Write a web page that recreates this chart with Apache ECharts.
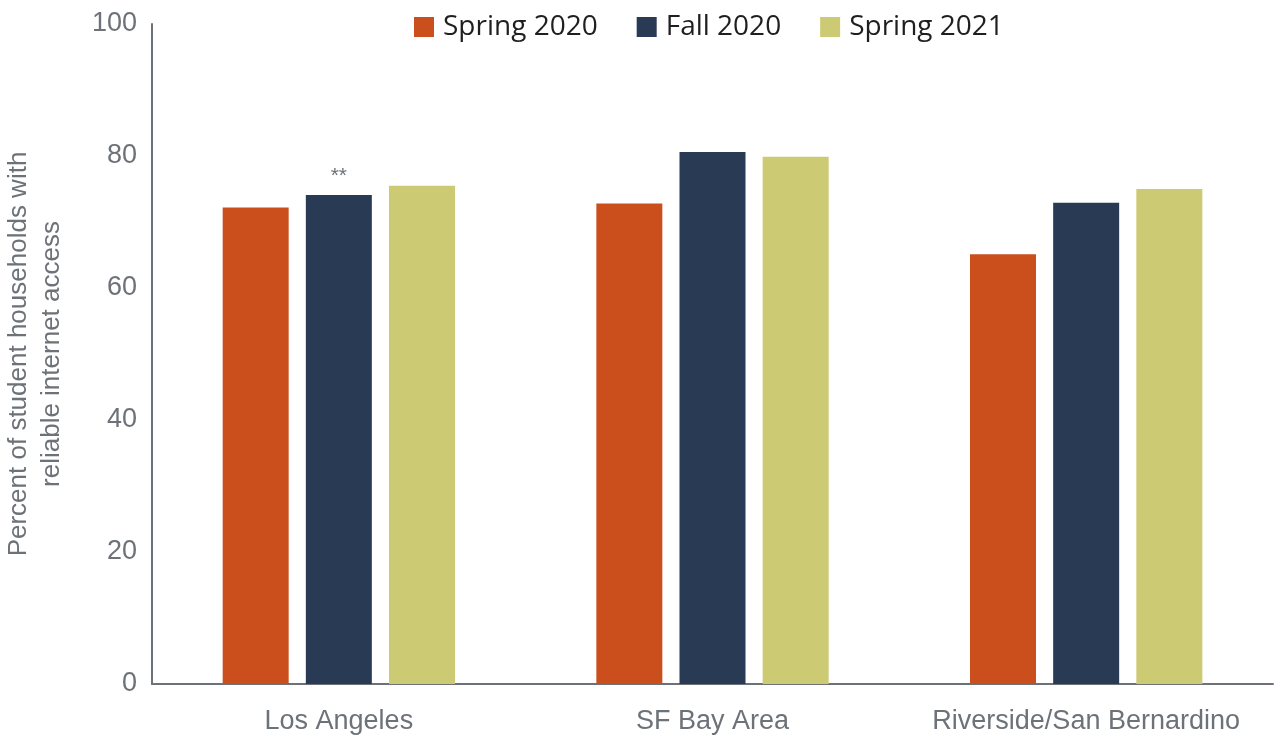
<!DOCTYPE html>
<html>
<head>
<meta charset="utf-8">
<script src="https://cdn.jsdelivr.net/npm/echarts@6/dist/echarts.min.js"></script>
<style>
  html, body { margin: 0; padding: 0; background: #fff; }
  #main { width: 1280px; height: 736px; }
</style>
</head>
<body>
<div id="main"></div>
<script>
  var regions = ['Los Angeles', 'SF Bay Area', 'Riverside/San Bernardino']
  var spring2020 = [72.2, 72.8, 65.1]
  var fall2020 = [74.1, 80.6, 72.9]
  var spring2021 = [75.5, 79.9, 75.0]
  var fallNotes = ['**', '', '']   // significance marks over the Fall 2020 bars
  var yTicks = [0, 20, 40, 60, 80, 100]

  var axisGray = '#6d7278'
  var font = '"Liberation Sans", Arial, sans-serif'

  var chart = echarts.init(document.getElementById('main'))
  var option = {
    backgroundColor: '#fff',
    color: ['#cb4f1c', '#283a54', '#cdca74'],
    textStyle: { fontFamily: font },
    legend: {
      top: 8,
      left: 409,
      itemWidth: 20,
      itemHeight: 20,
      itemGap: 39,
      icon: 'rect',
      textStyle: { fontSize: 28, color: '#1f1f1f', fontFamily: '"Open Sans", sans-serif', padding: [0, 0, 0, 4] },
      data: ['Spring 2020', 'Fall 2020', 'Spring 2021']
    },
    grid: { left: 152, right: 7, top: 24, bottom: 52, outerBoundsMode: 'none' },
    xAxis: {
      type: 'category',
      data: regions,
      axisLine: { lineStyle: { color: axisGray, width: 2 } },
      axisTick: { show: false },
      axisLabel: { fontSize: 27, color: axisGray, margin: 24, interval: 0 }
    },
    yAxis: {
      type: 'value',
      min: yTicks[0],
      max: yTicks[yTicks.length - 1],
      interval: 20,
      name: 'Percent of student households with\nreliable internet access',
      nameLocation: 'middle',
      nameGap: 84,
      nameTextStyle: { fontSize: 26, color: axisGray, lineHeight: 33 },
      axisLine: { show: true, lineStyle: { color: axisGray, width: 2 } },
      axisTick: { show: false },
      splitLine: { show: false },
      axisLabel: { fontSize: 27, color: axisGray, margin: 15 }
    },
    series: [
      { name: 'Spring 2020', type: 'bar', data: spring2020, barWidth: 66, barGap: '26%' },
      {
        name: 'Fall 2020', type: 'bar', data: fall2020, barWidth: 66, barGap: '26%',
        label: {
          show: true, position: 'top', distance: 8, fontSize: 21, color: axisGray,
          formatter: function (p) { return fallNotes[p.dataIndex] }
        }
      },
      { name: 'Spring 2021', type: 'bar', data: spring2021, barWidth: 66, barGap: '26%' }
    ]
  }
  chart.setOption(option)
</script>
</body>
</html>
